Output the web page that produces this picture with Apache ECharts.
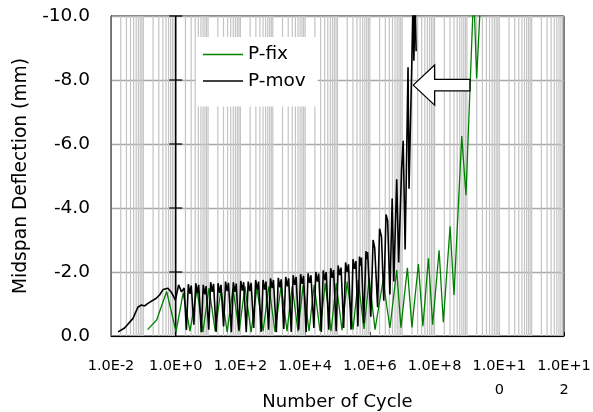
<!DOCTYPE html>
<html>
<head>
<meta charset="utf-8">
<script src="https://cdn.jsdelivr.net/npm/echarts@6/dist/echarts.min.js"></script>
<style>
  html, body { margin: 0; padding: 0; background: #fff; }
  #chart { width: 593px; height: 412px; }
</style>
</head>
<body>
<div id="chart"></div>
<script>
// [log10(number of cycles), midspan deflection mm]
var pFix = [
  [-0.87,-0.2],[-0.59,-0.5],[-0.28,-1.39],[0.01,-0.13],[0.23,-1.35],[0.44,-0.15],
  [0.66,-1.45],[0.84,-0.12],[1.03,-1.5],[1.22,-0.15],[1.4,-1.45],[1.59,-0.12],
  [1.77,-1.5],[1.96,-0.14],[2.14,-1.55],[2.33,-0.12],[2.51,-1.5],[2.7,-0.15],
  [2.88,-1.55],[3.07,-0.13],[3.26,-1.6],[3.44,-0.15],[3.6,-1.55],[3.78,-0.14],
  [3.94,-1.6],[4.12,-0.15],[4.28,-1.6],[4.46,-0.16],[4.62,-1.65],[4.8,-0.15],
  [4.96,-1.65],[5.14,-0.18],[5.3,-1.7],[5.48,-0.2],[5.64,-1.75],[5.82,-0.22],
  [5.98,-1.8],[6.16,-0.2],[6.41,-1.75],[6.62,-0.25],[6.83,-2.06],[6.96,-0.26],
  [7.16,-2.13],[7.3,-0.27],[7.5,-2.25],[7.64,-0.31],[7.81,-2.43],[7.94,-0.35],
  [8.14,-2.68],[8.27,-0.43],[8.48,-3.43],[8.6,-1.28],[8.84,-6.25],[8.97,-4.4],
  [9.21,-10.8],[9.3,-8.05],[9.47,-11.5]
];

var pMov = [
  [-1.78,-0.13],[-1.58,-0.25],[-1.32,-0.55],[-1.17,-0.9],[-1.06,-0.97],[-0.96,-0.94],
  [-0.86,-1.02],[-0.6,-1.18],[-0.5,-1.28],[-0.39,-1.45],[-0.24,-1.49],[-0.13,-1.36],
  [-0.01,-1.12],[0.09,-1.6],[0.18,-1.38],[0.26,-1.5],
  [0.33,-0.19],[0.39,-1.62],[0.44,-1.32],[0.48,-1.58],
  [0.56,-0.35],[0.62,-1.65],[0.67,-1.35],[0.71,-1.6],
  [0.79,-0.12],[0.85,-1.6],[0.9,-1.3],[0.94,-1.56],
  [1.02,-0.2],[1.08,-1.68],[1.13,-1.38],[1.17,-1.63],
  [1.25,-0.13],[1.31,-1.65],[1.36,-1.35],[1.4,-1.6],
  [1.48,-0.3],[1.54,-1.7],[1.59,-1.4],[1.63,-1.66],
  [1.72,-0.12],[1.78,-1.68],[1.83,-1.38],[1.87,-1.64],
  [1.95,-0.18],[2.01,-1.72],[2.06,-1.42],[2.1,-1.68],
  [2.18,-0.12],[2.24,-1.7],[2.29,-1.4],[2.33,-1.66],
  [2.41,-0.25],[2.47,-1.75],[2.52,-1.45],[2.56,-1.7],
  [2.64,-0.13],[2.7,-1.75],[2.75,-1.45],[2.79,-1.7],
  [2.87,-0.2],[2.93,-1.8],[2.98,-1.5],[3.02,-1.75],
  [3.11,-0.12],[3.17,-1.82],[3.22,-1.52],[3.26,-1.77],
  [3.34,-0.22],[3.4,-1.85],[3.45,-1.55],[3.49,-1.8],
  [3.57,-0.13],[3.63,-1.9],[3.68,-1.6],[3.72,-1.85],
  [3.8,-0.2],[3.86,-1.93],[3.91,-1.63],[3.95,-1.88],
  [4.03,-0.12],[4.09,-1.96],[4.14,-1.66],[4.18,-1.9],
  [4.27,-0.25],[4.33,-2.0],[4.38,-1.7],[4.42,-1.95],
  [4.5,-0.13],[4.56,-2.05],[4.61,-1.75],[4.65,-2.0],
  [4.73,-0.2],[4.79,-2.12],[4.84,-1.82],[4.88,-2.06],
  [4.96,-0.15],[5.02,-2.2],[5.07,-1.9],[5.11,-2.14],
  [5.19,-0.25],[5.25,-2.3],[5.3,-2.0],[5.34,-2.24],
  [5.42,-0.2],[5.48,-2.4],[5.53,-2.1],[5.57,-2.34],
  [5.63,-0.3],[5.68,-2.48],[5.71,-2.2],[5.74,-2.45],
  [5.81,-0.4],[5.88,-2.65],[5.91,-2.4],[5.93,-2.62],
  [6.03,-0.6],[6.1,-3.0],[6.15,-2.75],
  [6.24,-0.9],[6.3,-3.35],[6.36,-3.1],
  [6.43,-1.1],[6.5,-3.8],[6.55,-3.6],
  [6.62,-1.3],[6.69,-4.3],[6.74,-1.7],[6.83,-4.9],[6.89,-2.3],
  [6.98,-5.2],[7.03,-6.1],[7.09,-2.7],[7.18,-8.4],[7.21,-4.6],
  [7.34,-10.5],[7.36,-8.6],[7.4,-10.5],[7.43,-8.9]
];

var xTickLabels = ['1.0E-2', '1.0E+0', '1.0E+2', '1.0E+4', '1.0E+6', '1.0E+8', '1.0E+1\n0', '1.0E+1\n2'];
var yTicks = [-2, -4, -6, -8, -10];
var gridMantissas = [1, 2, 3, 4, 5, 6, 7, 8, 9];
var gridDecades = [-2, -1, 0, 1, 2, 3, 4, 5, 6, 7, 8, 9, 10, 11];
var arrowTip = [7.34, -7.84]; // log10 cycles, deflection

var FONT = 'DejaVu Sans';

function toCycles(arr) {
  return arr.map(function (p) { return [Math.pow(10, p[0]), p[1]]; });
}

// vertical log grid: [x, kind]  kind 0 = grey minor line, 1 = axis line at 1 cycle
var gridLines = [];
gridDecades.forEach(function (d) {
  gridMantissas.forEach(function (m) {
    gridLines.push([m * Math.pow(10, d), 0]);
  });
});
gridLines.push([1, 1]);

var chart = echarts.init(document.getElementById('chart'));

var option = {
  animation: false,
  textStyle: { fontFamily: FONT },
  grid: {
    left: 111, right: 29, top: 16, bottom: 76,
    show: true, borderColor: '#000', borderWidth: 1,
    outerBoundsMode: 'none'
  },
  legend: {
    data: ['P-fix', 'P-mov'],
    orient: 'vertical',
    left: 196, top: 37,
    padding: [8, 12, 16, 7],
    icon: 'rect',
    itemWidth: 40, itemHeight: 1.6, itemGap: 7.5,
    backgroundColor: '#fff',
    textStyle: { fontFamily: FONT, fontSize: 18.5, color: '#000' }
  },
  xAxis: {
    type: 'log',
    logBase: 100,
    min: 0.01, max: 1e12,
    name: 'Number of Cycle',
    nameLocation: 'middle',
    nameGap: 57,
    nameMoveOverlap: false,
    nameTextStyle: { fontFamily: FONT, fontSize: 18, color: '#000' },
    axisLine: { lineStyle: { color: '#000', width: 1 } },
    axisTick: { inside: true, length: 4, lineStyle: { color: '#000' } },
    axisLabel: {
      interval: 0, margin: 18, lineHeight: 24,
      fontFamily: FONT, fontSize: 14.5, color: '#000',
      showMinLabel: true, showMaxLabel: true,
      formatter: function (v) {
        var e = Math.round(Math.log10(v));
        return xTickLabels[(e + 2) / 2];
      }
    },
    splitLine: { show: false }
  },
  yAxis: {
    type: 'value',
    inverse: true,
    min: -10, max: 0, interval: 2,
    name: 'Midspan Deflection (mm)',
    nameLocation: 'middle',
    nameGap: 80,
    nameMoveOverlap: false,
    nameTextStyle: { fontFamily: FONT, fontSize: 18.7, color: '#000' },
    axisLine: { show: true, lineStyle: { color: '#000', width: 1 } },
    axisTick: { show: false },
    axisLabel: {
      margin: 21, fontFamily: FONT, fontSize: 18.5, color: '#000',
      formatter: function (v) { return v.toFixed(1); }
    },
    splitLine: { show: true, lineStyle: { color: '#a8a8a8', width: 1.3 } }
  },
  series: [
    {
      name: 'grid',
      type: 'custom',
      data: gridLines,
      z: 1,
      silent: true,
      clip: true,
      renderItem: function (params, api) {
        var x = api.value(0);
        var top = api.coord([x, -10]);
        var bottom = api.coord([x, 0]);
        var isAxis = api.value(1) === 1;
        return {
          type: 'line',
          shape: { x1: top[0], y1: top[1], x2: bottom[0], y2: bottom[1] },
          style: { stroke: isAxis ? '#000' : '#c4c4c4', lineWidth: isAxis ? 1.5 : 1.2 },
          z2: isAxis ? 2 : 1
        };
      }
    },
    {
      name: 'P-fix',
      type: 'line',
      data: toCycles(pFix),
      symbol: 'none',
      showSymbol: false,
      z: 3,
      lineStyle: { color: '#008000', width: 1.3, type: 'solid' },
      itemStyle: { color: '#008000' }
    },
    {
      name: 'P-mov',
      type: 'line',
      data: toCycles(pMov),
      symbol: 'none',
      showSymbol: false,
      z: 4,
      lineStyle: { color: '#000', width: 1.6, type: 'solid' },
      itemStyle: { color: '#000' }
    },
    {
      name: 'yticks',
      type: 'scatter',
      data: yTicks.map(function (v) { return [1, v]; }),
      symbol: 'rect',
      symbolSize: [13, 1.5],
      itemStyle: { color: '#000' },
      silent: true,
      z: 5
    }
  ]
};

chart.setOption(option);

var tip = chart.convertToPixel({ seriesIndex: 1 }, [Math.pow(10, arrowTip[0]), arrowTip[1]]);
var arrowShape = [[0, 0], [21.4, -20], [21.4, -5.8], [56.7, -5.8], [56.7, 5.8], [21.4, 5.8], [21.4, 20]];
chart.setOption({
  graphic: [{
    type: 'polygon',
    z: 10,
    silent: true,
    shape: { points: arrowShape.map(function (p) { return [tip[0] + p[0], tip[1] + p[1]]; }) },
    style: { fill: '#fff', stroke: '#000', lineWidth: 1.3 }
  }]
});
</script>
</body>
</html>
